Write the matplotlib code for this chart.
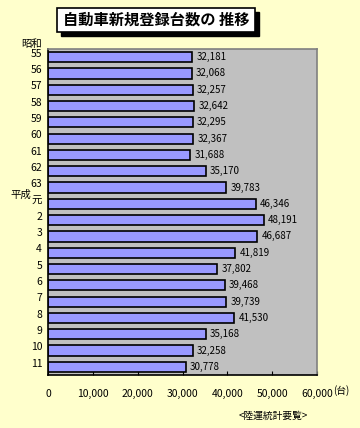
import matplotlib
matplotlib.use("Agg")
import matplotlib.pyplot as plt
from matplotlib.patches import Rectangle
import numpy as np

plt.rcParams['font.family'] = ['Noto Sans CJK JP', 'DejaVu Sans']

categories = ["55", "56", "57", "58", "59", "60", "61", "62", "63",
              "元", "2", "3", "4", "5", "6", "7", "8", "9", "10", "11"]
values = [32181, 32068, 32257, 32642, 32295, 32367, 31688, 35170, 39783,
          46346, 48191, 46687, 41819, 37802, 39468, 39739, 41530, 35168, 32258, 30778]
xticks = [0, 10000, 20000, 30000, 40000, 50000, 60000]

W, H = 360, 428
fig = plt.figure(figsize=(W / 100, H / 100), dpi=100)
fig.patch.set_facecolor("#FFFFCC")

ax = fig.add_axes([48 / W, 1 - 375 / H, (317 - 48) / W, (375 - 49) / H])
ax.set_facecolor("#C0C0C0")

y = np.arange(len(categories))
ax.barh(y, values, height=0.62, color="#9999FF", edgecolor="black", linewidth=1.2, zorder=2)
for yi, v in zip(y, values):
    ax.annotate(f"{v:,}", (v, yi), xytext=(3, 0), textcoords="offset points",
                va="center", ha="left", fontsize=7, color="black")

ax.set_xlim(0, 60000)
ax.set_ylim(len(categories) - 0.5, -0.5)
ax.set_xticks(xticks)
ax.set_xticklabels([f"{t:,}" for t in xticks], fontsize=7.5)
ax.tick_params(axis="x", direction="in", length=3, pad=10, color="black")
ax.set_yticks([])
ytrans = ax.get_yaxis_transform()
for yi, lab in zip(y, categories):
    ax.text(-0.022, yi - 0.2, lab, transform=ytrans, ha="right", va="center", fontsize=7.5)
for s in ["left", "bottom"]:
    ax.spines[s].set_color("black")
    ax.spines[s].set_linewidth(1.2)
for s in ["top", "right"]:
    ax.spines[s].set_color("#808080")
    ax.spines[s].set_linewidth(1.2)

# era labels
fig.text(42 / W, 1 - 44 / H, "昭和", fontsize=7.5, ha="right", va="center")
fig.text(31 / W, 1 - 195 / H, "平成", fontsize=7.5, ha="right", va="center")
fig.text(341 / W, 1 - 391 / H, "(台)", fontsize=7, ha="center", va="center")
fig.text(273 / W, 1 - 416 / H, "<陸運統計要覧>", fontsize=7, ha="center", va="center")

# title box with shadow
bx0, by0, bx1, by1 = 57, 8, 255, 32
fig.patches.append(Rectangle(((bx0 + 4) / W, 1 - (by1 + 4) / H), (bx1 - bx0) / W, (by1 - by0) / H,
                             transform=fig.transFigure, facecolor="black", edgecolor="black", zorder=1))
fig.patches.append(Rectangle((bx0 / W, 1 - by1 / H), (bx1 - bx0) / W, (by1 - by0) / H,
                             transform=fig.transFigure, facecolor="white", edgecolor="black",
                             linewidth=1.2, zorder=2))
fig.text((bx0 + bx1) / 2 / W, 1 - (by0 + by1) / 2 / H, "自動車新規登録台数の 推移",
         fontsize=11, fontweight="bold", ha="center", va="center", zorder=3)

fig.savefig("out.png", dpi=100, facecolor=fig.get_facecolor())
